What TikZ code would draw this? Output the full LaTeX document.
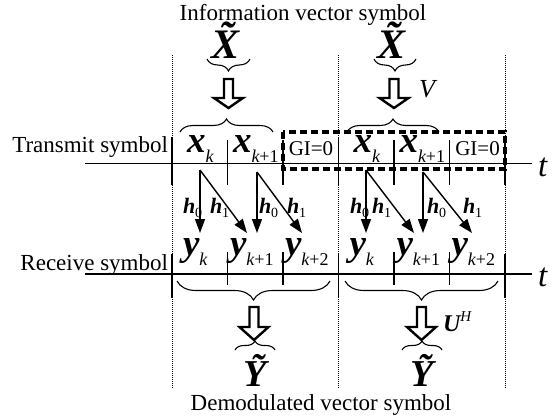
\documentclass[tikz,border=0pt]{standalone}
\usepackage{fontspec}
\setmainfont{Liberation Serif}
\usetikzlibrary{decorations.pathreplacing,arrows.meta}
\newcommand\fs[1]{\fontsize{#1}{#1}\selectfont}
\newcommand\bsym[2]{{\fs{37}\bfseries\itshape #1}\raisebox{-10pt}{\fs{18}\mdseries\upshape #2}}
\newcommand\hlab[1]{{\fs{22}\bfseries\itshape h}\raisebox{-4pt}{\fs{14}\mdseries\upshape #1}}
\newcommand\HollowArr[4]{%
  \draw[line width=2.4pt, line join=miter] (#1-4.5,#2) -- (#1-4.5,#3) -- (#1-14.5,#3) -- (#1,#4) -- (#1+14.5,#3) -- (#1+4.5,#3) -- (#1+4.5,#2) -- cycle;}
\begin{document}
\begin{tikzpicture}[x=1pt,y=-1pt,
  lbl/.style={inner sep=0pt, outer sep=0pt},
  brc/.style={decorate, decoration={brace, amplitude=#1}, line width=1.1pt},
  brcm/.style={decorate, decoration={brace, amplitude=#1, mirror}, line width=1.1pt},
  axis/.style={line width=1.2pt},
  tick/.style={line width=1.2pt},
  dotline/.style={line width=0.8pt, dash pattern=on 0.8pt off 1.2pt},
  harr/.style={line width=1.4pt, -{Triangle[length=14pt,width=10pt]}},
  gibox/.style={line width=4pt, dash pattern=on 7pt off 4pt}]
\useasboundingbox (0,0) rectangle (555,416);

% dotted guide lines
\foreach \xx/\nm in {172/L1, 338.5/L2, 505/L3} {
  \coordinate (\nm top) at (\xx,55);
  \coordinate (\nm bot) at (\xx,388);
  \draw[dotline] (\nm top) -- (\nm bot);
  \draw[tick] (\xx,137) -- (\xx,185);
  \draw[tick] (\xx,254) -- (\xx,298);
}
% ticks
\foreach \xx in {227.5, 283, 394, 449.5} {
  \draw[tick] (\xx,140) -- (\xx,185);
  \draw[tick] (\xx,252) -- (\xx,285);
}

% axes
\coordinate (tx0) at (85,163.3); \coordinate (tx1) at (532,163.3);
\coordinate (rx0) at (85,274); \coordinate (rx1) at (532,274);
\draw[axis] (tx0) -- (tx1);
\draw[axis] (rx0) -- (rx1);
\node[lbl, anchor=base west] (tT) at (538,176) {\fs{33}\itshape t};
\node[lbl, anchor=base west] (tR) at (538,286) {\fs{33}\itshape t};

% GI box
\draw[gibox] (283,131.5) rectangle (505,169);

% titles
\node[lbl, anchor=base] (title) at (303,20) {\fs{23}Information vector symbol};
\node[lbl, anchor=base] (demod) at (321,410) {\fs{23}Demodulated vector symbol};
\node[lbl, anchor=base east] (txlab) at (168,152) {\fs{23}Transmit symbol};
\node[lbl, anchor=base east] (rxlab) at (168,270) {\fs{23}Receive symbol};

% information vectors
\node[lbl, anchor=base] (XL) at (226,58) {\fs{42}\bfseries\itshape \~X};
\node[lbl, anchor=base] (XR) at (392,58) {\fs{42}\bfseries\itshape \~X};
\draw[brcm=12] (207,59) -- (250,59);
\draw[brcm=12] (374,59) -- (416,59);
\HollowArr{228.5}{79}{98}{108}
\HollowArr{394}{79}{98}{108}
\node[lbl, anchor=base west] (V) at (419,97) {\fs{26}\itshape V};
\draw[brc=13] (180,132) -- (273,132);
\draw[brc=13] (347,132) -- (439,132);

% transmit symbols
\node[lbl, anchor=base west] (x1) at (187,152) {\bsym{x}{\itshape k}};
\node[lbl, anchor=base west] (x2) at (233,152) {\bsym{x}{\itshape k\upshape +1}};
\node[lbl, anchor=base] (g1) at (311,155) {\fs{21}GI=0};
\node[lbl, anchor=base west] (x3) at (353.5,152) {\bsym{x}{\itshape k}};
\node[lbl, anchor=base west] (x4) at (399.5,152) {\bsym{x}{\itshape k\upshape +1}};
\node[lbl, anchor=base] (g2) at (477.5,155) {\fs{21}GI=0};

% channel arrows
\foreach \sx/\sy/\ex/\nm in {200/170/247/a, 257/172/302/b, 366/170/414/c, 423/172/472/d} {
  \coordinate (s\nm) at (\sx,\sy);
  \coordinate (v\nm) at (\sx,233);
  \coordinate (d\nm) at (\ex,233);
  \draw[harr] (s\nm) -- (v\nm);
  \draw[harr] (s\nm) -- (d\nm);
}
\node[lbl, anchor=base west] (h0a) at (183,213) {\hlab{0}};
\node[lbl, anchor=base west] (h1a) at (210,213) {\hlab{1}};
\node[lbl, anchor=base west] (h0b) at (259,213) {\hlab{0}};
\node[lbl, anchor=base west] (h1b) at (287,213) {\hlab{1}};
\node[lbl, anchor=base west] (h0c) at (350,213) {\hlab{0}};
\node[lbl, anchor=base west] (h1c) at (372,213) {\hlab{1}};
\node[lbl, anchor=base west] (h0d) at (427,213) {\hlab{0}};
\node[lbl, anchor=base west] (h1d) at (463,213) {\hlab{1}};

% receive symbols
\node[lbl, anchor=base west] (y1) at (183,255) {\bsym{y}{\itshape k}};
\node[lbl, anchor=base west] (y2) at (230,255) {\bsym{y}{\itshape k\upshape +1}};
\node[lbl, anchor=base west] (y3) at (285,255) {\bsym{y}{\itshape k\upshape +2}};
\node[lbl, anchor=base west] (y4) at (349.5,255) {\bsym{y}{\itshape k}};
\node[lbl, anchor=base west] (y5) at (396.5,255) {\bsym{y}{\itshape k\upshape +1}};
\node[lbl, anchor=base west] (y6) at (451.5,255) {\bsym{y}{\itshape k\upshape +2}};

% demodulated
\draw[brcm=19] (177,281) -- (330,281);
\draw[brcm=19] (345,281) -- (498,281);
\HollowArr{254}{307}{327}{340}
\HollowArr{421.5}{307}{327}{340}
\node[lbl, anchor=base west] (UH) at (443,331) {{\fs{24}\bfseries\itshape U}\raisebox{10pt}{\fs{15}\itshape H}};
\draw[brc=9] (235,350) -- (275,350);
\draw[brc=9] (402,350) -- (442,350);
\node[lbl, anchor=base] (YL) at (255,386) {\raisebox{0pt}[\height][0pt]{\fs{38}\bfseries\itshape \~Y}};
\node[lbl, anchor=base] (YR) at (422,386) {\raisebox{0pt}[\height][0pt]{\fs{38}\bfseries\itshape \~Y}};
\end{tikzpicture}
\end{document}
